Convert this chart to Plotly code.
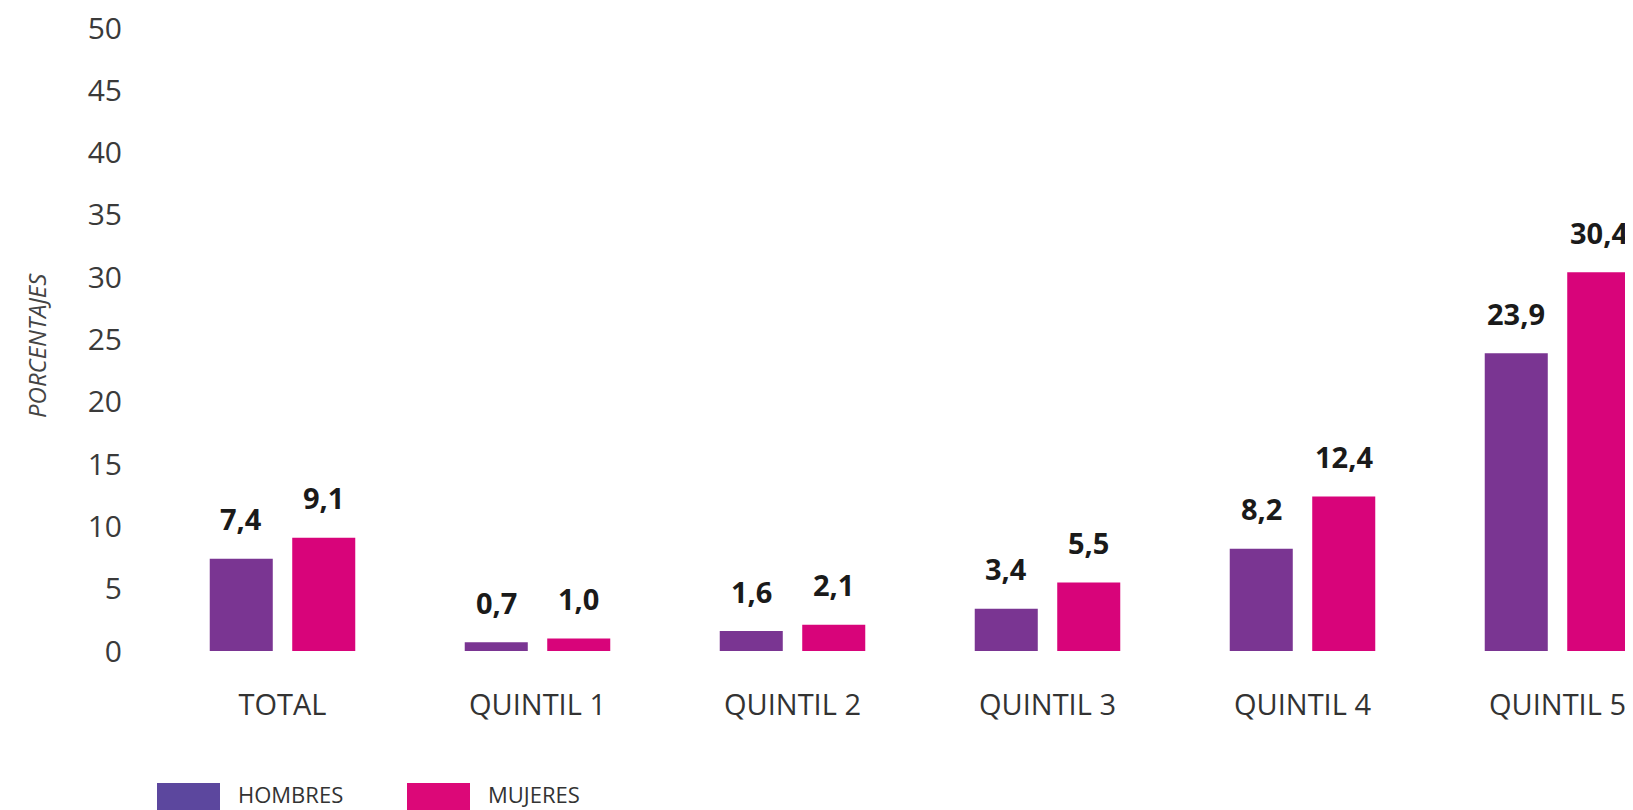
import plotly.graph_objects as go

categories = ["TOTAL", "QUINTIL 1", "QUINTIL 2", "QUINTIL 3", "QUINTIL 4", "QUINTIL 5"]
hombres = [7.4, 0.7, 1.6, 3.4, 8.2, 23.9]
mujeres = [9.1, 1.0, 2.1, 5.5, 12.4, 30.4]
y_ticks = [0, 5, 10, 15, 20, 25, 30, 35, 40, 45, 50]

COL_H = "#7a3592"
COL_M = "#d8047a"
LEG_H = "#5c479e"
LEG_M = "#dc0878"

OFF = 8  # default page body margin in the written html
W, H = 1633 - OFF, 810 - OFF
ML, MR, MT, MB = 155 - OFF, 0, 10 - OFF, 159
PW = W - ML - MR
PH = H - MT - MB
CAT_PX = 255.0
X_END = -0.5 + PW / CAT_PX
SLOT_PX = CAT_PX * (1 - 0.353) / 2

FONT = "Open Sans"

fig = go.Figure()
fig.add_trace(go.Bar(x=categories, y=hombres, name="HOMBRES",
                     marker=dict(color=COL_H, line=dict(width=0))))
fig.add_trace(go.Bar(x=categories, y=mujeres, name="MUJERES",
                     marker=dict(color=COL_M, line=dict(width=0))))

annotations = []
for i, cat in enumerate(categories):
    for val, sh in ((hombres[i], -SLOT_PX / 2), (mujeres[i], SLOT_PX / 2)):
        annotations.append(dict(
            x=cat, y=val, xref="x", yref="y",
            text=f"{val:.1f}".replace(".", ","),
            showarrow=False, xshift=sh, yshift=40, yanchor="middle",
            font=dict(family=FONT, size=29, color="#1a1a1a", weight="bold"),
        ))


# page pixel -> paper coordinates
def px_x(p):
    return (p - OFF - ML) / PW


def px_y(p):
    return (H - MB - (p - OFF)) / PH


shapes = []
for x0, x1, col in ((157, 220, LEG_H), (407, 470, LEG_M)):
    shapes.append(dict(type="rect", xref="paper", yref="paper",
                       x0=px_x(x0), x1=px_x(x1), y0=px_y(815), y1=px_y(783),
                       fillcolor=col, line=dict(width=0), layer="above"))
for xl, txt in ((236, "HOMBRES"), (486, "MUJERES")):
    annotations.append(dict(x=px_x(xl), y=px_y(794), xref="paper", yref="paper",
                            text=txt, showarrow=False, xanchor="left", yanchor="middle",
                            font=dict(family=FONT, size=22, color="#333333")))

annotations.append(dict(x=px_x(36), y=px_y(346), xref="paper", yref="paper",
                        text="<i>PORCENTAJES</i>", showarrow=False, textangle=-90,
                        xanchor="center", yanchor="middle",
                        font=dict(family=FONT, size=24, color="#444444")))

fig.update_layout(
    width=W, height=H,
    margin=dict(l=ML, r=MR, t=MT, b=MB),
    paper_bgcolor="white", plot_bgcolor="white",
    barmode="group", bargap=0.353, bargroupgap=0.236,
    showlegend=False,
    annotations=annotations, shapes=shapes,
    separators=",.",
)
fig.update_xaxes(range=[-0.5, X_END], showgrid=False, showline=False, zeroline=False,
                 ticks="", ticklabelstandoff=34,
                 tickfont=dict(family=FONT, size=29, color="#333333"))
fig.update_yaxes(range=[0, 51.45], tickvals=y_ticks, showgrid=False, showline=False,
                 zeroline=False, ticks="", ticklabelstandoff=32,
                 ticklabeloverflow="allow",
                 tickfont=dict(family=FONT, size=30, color="#3a3a3a"))

fig.write_html("out.html")
